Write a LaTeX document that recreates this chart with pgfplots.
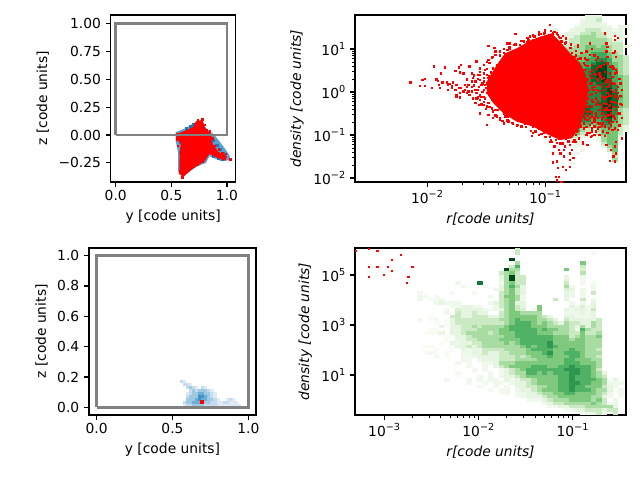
\documentclass[border=0pt]{standalone}
\usepackage{fontspec}
\setmainfont{DejaVu Sans}
\usepackage{pgfplots}
\usepackage{pgfplotstable}
\pgfplotsset{compat=1.18}
\newcommand\pw[1]{10\raisebox{0.85ex}{\fontsize{7}{7}\selectfont #1}}
\pgfdeclareplotmark{cell}{\pgfpathrectangle{\pgfqpoint{-2.0bp}{-1.25bp}}{\pgfqpoint{4.0bp}{2.5bp}}\pgfusepathqfill}
\pgfdeclareplotmark{bcell}{\pgfpathrectangle{\pgfqpoint{-1.1bp}{-1.1bp}}{\pgfqpoint{2.2bp}{2.2bp}}\pgfusepathqfill}
\pgfdeclareplotmark{dot}{\pgfpathrectangle{\pgfqpoint{-0.85bp}{-0.85bp}}{\pgfqpoint{1.7bp}{1.7bp}}\pgfusepathqfill}
\definecolor{boxgray}{HTML}{808080}
\pgfplotsset{
  every axis/.append style={scale only axis, clip mode=individual, tick align=outside, tick pos=left,
    major tick length=3.5bp, minor tick length=2bp, axis line style={line width=0.8bp},
    every tick/.append style={line width=0.8bp, black},
    every minor tick/.append style={line width=0.6bp, black},
    tick label style={font=\fontsize{10}{12}\selectfont},
    label style={font=\fontsize{10}{12}\selectfont},
    x tick label style={yshift=1.2bp}},
  colormap={greens}{rgb255=(247,252,245) rgb255=(229,245,224) rgb255=(199,233,192) rgb255=(161,217,155) rgb255=(116,196,118) rgb255=(65,171,93) rgb255=(35,139,69) rgb255=(0,109,44) rgb255=(0,68,27)},
  colormap={blues}{rgb255=(247,251,255) rgb255=(222,235,247) rgb255=(198,219,239) rgb255=(158,202,225) rgb255=(107,174,214) rgb255=(66,146,198) rgb255=(33,113,181) rgb255=(8,81,156) rgb255=(8,48,107)},
  hist/.style={scatter, only marks, mark=cell, colormap name=greens, point meta min=0, point meta max=8,
    scatter src=explicit, scatter/use mapped color={draw=none, fill=mapped color}},
  dots/.style={only marks, mark=dot, red, mark options={fill=red}},
}
% panel 2, gas phase histogram: column, row, shade
\pgfplotstableread[row sep=\\, header=false]{
37 4 1\\37 5 1\\37 6 1\\37 7 1\\38 7 1\\38 8 1\\39 5 1\\39 6 1\\39 7 1\\39 8 1\\39 9 2\\39 10 3\\39 20 4\\39 25 4\\39 30 4\\39 34 4\\39 36 3\\
40 4 .5\\40 5 1\\40 6 1\\40 7 2\\40 8 2\\40 9 2\\40 10 3\\40 11 3\\40 12 3\\40 13 4\\40 14 4\\40 15 4\\40 16 5\\40 18 5\\40 20 5\\40 22 5\\40 24 5\\40 26 5\\40 28 5\\40 30 5\\40 32 5\\40 34 4\\40 36 3\\40 37 .5\\40 44 .5\\
41 3 .5\\41 4 1\\41 5 1\\41 6 2\\41 7 2\\41 8 2\\41 9 3\\41 10 3\\41 11 3\\41 12 4\\41 13 4\\41 14 4\\41 15 4\\41 16 5\\41 17 5\\41 18 5\\41 19 5\\41 20 5\\41 21 5\\41 22 5\\41 23 5\\41 24 5\\41 25 5\\41 26 5\\41 27 5\\41 28 5\\41 29 5\\41 30 5\\41 31 6\\41 32 6\\41 33 6\\41 34 5\\41 35 4\\41 36 2\\41 37 1\\41 38 1\\41 39 .5\\41 41 .5\\
42 1 .5\\42 2 1\\42 3 1\\42 4 1\\42 5 2\\42 6 3\\42 7 3\\42 8 3\\42 9 3\\42 10 3\\42 11 4\\42 12 4\\42 13 4\\42 14 5\\42 15 5\\42 16 5\\42 17 5\\42 18 6\\42 19 6\\42 20 5\\42 21 5\\42 22 5\\42 23 6\\42 24 6\\42 25 6\\42 26 6\\42 27 6\\42 28 7\\42 29 7\\42 30 7\\42 31 6\\42 32 5\\42 33 4\\42 34 3\\42 35 2\\42 36 1\\42 38 .5\\42 40 .5\\
43 0 1\\43 1 1\\43 2 1\\43 3 1\\43 4 2\\43 5 2\\43 6 3\\43 7 3\\43 8 3\\43 9 4\\43 10 4\\43 11 4\\43 12 4\\43 13 5\\43 14 5\\43 15 5\\43 16 6\\43 17 6\\43 18 6\\43 19 6\\43 20 6\\43 21 6\\43 22 6\\43 23 6\\43 24 6\\43 25 6\\43 26 6\\43 27 7\\43 28 7\\43 29 7\\43 30 6\\43 31 6\\43 32 5\\43 33 4\\43 34 2\\43 35 1\\43 36 1\\
44 0 1\\44 1 1\\44 2 1\\44 3 1\\44 4 2\\44 5 3\\44 6 3\\44 7 3\\44 8 3\\44 9 4\\44 10 4\\44 11 5\\44 12 5\\44 13 5\\44 14 6\\44 15 7\\44 16 7\\44 17 7\\44 18 7\\44 19 7\\44 20 6\\44 21 6\\44 22 6\\44 23 6\\44 24 6\\44 25 6\\44 26 6\\44 27 6\\44 28 6\\44 29 6\\44 30 6\\44 31 5\\44 32 4\\44 33 2\\44 34 1\\44 35 .5\\44 36 .5\\
45 0 1\\45 1 2\\45 2 1\\45 3 1\\45 4 2\\45 5 2\\45 6 2\\45 7 3\\45 8 3\\45 9 3\\45 10 4\\45 11 5\\45 12 5\\45 13 6\\45 14 7\\45 15 7\\45 16 8\\45 17 8\\45 18 8\\45 19 7\\45 20 7\\45 21 6\\45 22 6\\45 23 6\\45 24 6\\45 25 6\\45 26 7\\45 27 6\\45 28 6\\45 29 6\\45 30 6\\45 31 5\\45 32 5\\45 33 4\\45 34 3\\45 35 2\\45 36 1\\45 37 .5\\
46 2 .5\\46 3 1\\46 4 1\\46 5 2\\46 6 2\\46 7 3\\46 8 3\\46 9 4\\46 10 4\\46 11 5\\46 12 5\\46 13 6\\46 14 7\\46 15 8\\46 16 8\\46 17 8\\46 18 8\\46 19 8\\46 20 7\\46 21 7\\46 22 7\\46 23 7\\46 24 7\\46 25 7\\46 26 7\\46 27 8\\46 28 7\\46 29 7\\46 30 6\\46 31 6\\46 32 6\\46 33 5\\46 34 4\\46 35 4\\46 36 3\\46 37 3\\46 38 2\\46 39 1\\
47 3 .5\\47 4 1\\47 5 1\\47 6 1\\47 7 2\\47 8 2\\47 9 3\\47 10 3\\47 11 4\\47 12 4\\47 13 5\\47 14 5\\47 15 6\\47 16 6\\47 17 6\\47 18 6\\47 19 7\\47 20 7\\47 21 7\\47 22 8\\47 23 8\\47 24 8\\47 25 8\\47 26 8\\47 27 8\\47 28 8\\47 29 8\\47 30 8\\47 31 7\\47 32 6\\47 33 5\\47 34 4\\47 35 4\\47 36 4\\47 37 4\\47 38 4\\47 39 3\\47 40 2\\
48 4 .5\\48 5 1\\48 6 1\\48 7 1\\48 8 2\\48 9 2\\48 10 2\\48 11 3\\48 12 3\\48 13 3\\48 14 4\\48 15 4\\48 16 5\\48 17 5\\48 18 5\\48 19 5\\48 20 5\\48 21 6\\48 22 6\\48 23 7\\48 24 7\\48 25 7\\48 26 7\\48 27 7\\48 28 6\\48 29 6\\48 30 5\\48 31 5\\48 32 4\\48 33 4\\48 34 4\\48 35 4\\48 36 4\\48 37 4\\48 38 4\\48 39 4\\48 40 4\\48 41 3\\48 42 2\\48 43 3\\
49 3 1\\49 4 1\\49 5 1\\49 6 1\\49 7 1\\49 8 2\\49 9 2\\49 10 2\\49 11 2\\49 12 3\\49 13 3\\49 14 3\\49 15 3\\49 16 3\\49 17 3\\49 18 4\\49 19 4\\49 20 4\\49 21 4\\49 22 4\\49 23 4\\49 24 5\\49 25 4\\49 26 4\\49 27 4\\49 28 3\\49 29 3\\49 30 3\\49 31 3\\49 32 3\\49 33 2\\49 34 2\\49 35 2\\49 36 1\\
50 3 1\\50 6 1\\50 9 1\\50 12 2\\50 13 2\\50 14 2\\50 15 2\\50 16 2\\50 17 2\\50 18 3\\50 19 3\\50 20 3\\50 21 3\\50 22 3\\50 23 3\\50 24 3\\50 25 3\\50 26 3\\50 27 3\\50 28 2\\50 29 2\\50 30 2\\50 31 2\\50 32 2\\50 33 1\\50 34 1\\
}\histtop
% panel 4, gas phase histogram: column, row, shade
\pgfplotstableread[row sep=\\, header=false]{
30 0 2\\30 1 2\\29 3 9\\30 4 3\\29 5 2\\30 5 5\\28 6 9\\29 6 3\\30 6 3\\27 7 2\\28 7 3\\29 7 4\\30 7 2\\27 8 1\\28 8 3\\29 8 9\\30 8 2\\31 8 2\\
27 9 1\\28 9 3\\29 9 9\\30 9 2\\31 9 2\\19 10 .5\\23 10 7\\27 10 .5\\28 10 3\\29 10 4\\30 10 2\\31 10 2\\20 11 .3\\24 11 .5\\27 11 1\\28 11 3\\29 11 5\\30 11 3\\31 11 1\\26 12 .5\\27 12 1\\28 12 3\\29 12 4\\30 12 2\\31 12 1\\
12 13 .3\\18 13 .2\\22 13 .3\\27 13 2\\28 13 3\\29 13 4\\30 13 2\\31 13 1\\12 14 .5\\13 14 .3\\15 14 .3\\25 14 .5\\27 14 2\\28 14 4\\29 14 4\\30 14 3\\31 14 .5\\12 15 .5\\14 15 .2\\15 15 .3\\16 15 .5\\27 15 2\\28 15 3\\29 15 4\\30 15 3\\31 15 .5\\
15 16 .5\\16 16 1\\17 16 .3\\18 16 .5\\19 16 .5\\25 16 .5\\26 16 1\\27 16 2\\28 16 3\\29 16 4\\30 16 1\\31 16 1\\18 17 .5\\19 17 .5\\20 17 1\\21 17 1\\22 17 .5\\23 17 .3\\26 17 .5\\27 17 2\\28 17 3\\29 17 4\\30 17 2\\31 17 1\\34 17 4\\37 15 2\\
17 18 .3\\19 18 1.5\\20 18 1\\21 18 1\\22 18 1\\23 18 1\\24 18 .5\\25 18 .2\\26 18 .5\\27 18 1\\28 18 3\\29 18 4\\30 18 2\\31 18 1.5\\33 18 .3\\34 18 4\\
17 19 .5\\19 19 2\\20 19 1\\21 19 1\\22 19 2\\23 19 1\\24 19 1\\27 19 2\\28 19 3\\29 19 4\\30 19 4\\31 19 3\\32 19 3\\33 19 3\\34 19 3\\
14 20 0\\18 20 2\\19 20 2\\20 20 1\\21 20 1\\22 20 2\\23 20 2\\24 20 2\\25 20 1\\26 20 1\\27 20 2\\28 20 3\\29 20 4\\30 20 4\\31 20 4\\32 20 4\\33 20 4\\34 20 3\\35 20 2\\36 20 1\\
12 21 .3\\14 21 0\\15 21 .3\\17 21 0\\18 21 1\\19 21 2\\20 21 2\\21 21 2\\22 21 2\\23 21 2\\24 21 2\\25 21 2\\26 21 2\\27 21 3\\28 21 3\\29 21 4\\30 21 5\\31 21 4\\32 21 4\\33 21 4\\34 21 3\\35 21 3\\36 21 2\\37 21 1\\
15 22 0\\17 22 0\\18 22 1\\19 22 2\\20 22 2\\21 22 2\\22 22 2\\23 22 2\\24 22 2\\25 22 2\\26 22 2\\27 22 2\\28 22 3\\29 22 4\\30 22 5\\31 22 5\\32 22 5\\33 22 4\\34 22 3\\35 22 4\\36 22 3\\37 22 2\\38 22 1\\
16 23 1\\17 23 0\\18 23 1\\19 23 1\\20 23 2\\21 23 2\\22 23 3\\23 23 2\\24 23 3\\25 23 3\\26 23 3\\27 23 3\\28 23 4\\29 23 5\\30 23 5\\31 23 5\\32 23 5\\33 23 4\\34 23 4\\35 23 4\\36 23 3\\37 23 3\\38 23 3\\
14 24 0\\15 24 0\\18 24 1\\19 24 1\\20 24 2\\21 24 2\\22 24 2\\23 24 3\\24 24 3\\25 24 3\\26 24 3\\27 24 4\\28 24 4\\29 24 5\\30 24 5\\31 24 5\\32 24 5\\33 24 5\\34 24 4\\35 24 5\\36 24 4\\37 24 4\\38 24 3\\
13 25 0\\14 25 0\\15 25 0\\16 25 1\\18 25 1\\19 25 1\\20 25 2\\21 25 3\\22 25 3\\23 25 3\\24 25 3\\25 25 2\\26 25 3\\27 25 4\\28 25 4\\29 25 4\\30 25 5\\31 25 5\\32 25 5\\33 25 5\\34 25 4\\35 25 4\\36 25 4\\37 25 3\\38 25 3\\
39 6 4\\39 8 1\\39 9 1\\39 10 2\\39 11 3\\39 12 1.5\\39 13 1\\39 14 1\\39 15 1\\39 18 1\\39 19 .5\\39 20 1\\39 21 2\\39 22 3\\39 23 3\\39 24 3\\39 25 3\\
40 11 .5\\40 12 1\\40 13 .5\\40 14 .5\\40 16 .5\\40 17 1\\40 18 .5\\40 19 .5\\40 20 1\\40 21 1\\40 22 2\\40 23 2\\40 24 2\\40 25 2\\
41 17 .5\\41 18 1\\41 19 .5\\41 20 .5\\41 21 1\\41 22 2\\41 23 1\\41 24 .5\\41 25 2\\
42 4 4\\42 5 2\\42 6 1.5\\42 7 2.5\\42 8 .5\\42 9 .3\\42 10 .3\\42 12 .5\\42 13 .5\\42 14 .5\\42 15 2\\42 16 .5\\42 17 1.5\\42 18 1\\42 19 1\\42 20 .5\\42 21 1\\42 22 1\\42 23 3\\42 24 5\\42 25 4\\
43 17 .5\\43 18 .5\\43 19 .5\\43 20 .5\\43 21 1\\43 22 1\\43 23 1\\43 24 3\\43 25 2\\
44 1 .3\\44 10 .3\\44 11 .5\\44 12 .5\\44 13 2\\44 15 .5\\44 16 1\\44 17 1\\44 18 2\\44 19 1\\44 20 1\\44 21 1\\44 22 3\\44 23 3\\44 24 2\\44 25 2\\45 21 2\\45 22 2\\45 23 2\\45 24 2\\45 25 3\\
17 26 0\\18 26 0\\19 26 1\\20 26 1\\21 26 2\\22 26 3\\23 26 3\\24 26 3\\25 26 3\\26 26 3\\27 26 3\\28 26 4\\29 26 4\\30 26 5\\31 26 5\\32 26 5\\33 26 5\\34 26 5\\35 26 5\\36 26 5\\37 26 4\\38 26 4\\39 26 4\\40 26 2\\41 26 3\\42 26 4\\43 26 3\\44 26 3\\45 26 4\\
17 27 0\\19 27 1\\20 27 1\\21 27 2\\22 27 2\\23 27 3\\24 27 3\\25 27 3\\26 27 3\\27 27 4\\28 27 4\\29 27 4\\30 27 4\\31 27 5\\32 27 5\\33 27 5\\34 27 5\\35 27 5\\36 27 5\\37 27 4\\38 27 4\\39 27 4\\40 27 3\\41 27 4\\42 27 4\\43 27 3\\44 27 3\\45 27 3\\
16 28 0\\18 28 1\\19 28 .5\\20 28 1\\21 28 1\\22 28 2\\23 28 2\\24 28 3\\25 28 3\\26 28 3\\27 28 3\\28 28 4\\29 28 3\\30 28 4\\31 28 5\\32 28 5\\33 28 5\\34 28 5\\35 28 5\\36 28 6\\37 28 4\\38 28 4\\39 28 4\\40 28 4\\41 28 4\\42 28 4\\43 28 3\\44 28 3\\45 28 3\\
13 29 0\\14 29 0\\18 29 0\\19 29 1\\20 29 1\\21 29 2\\22 29 1\\23 29 2\\24 29 3\\25 29 3\\26 29 3\\27 29 3\\28 29 3\\29 29 3\\30 29 3\\31 29 4\\32 29 5\\33 29 4\\34 29 5\\35 29 5\\36 29 6\\37 29 5\\38 29 4\\39 29 4\\40 29 4\\41 29 4\\42 29 4\\43 29 3\\44 29 3\\45 29 3\\
15 30 0\\18 30 0\\20 30 1\\21 30 .5\\22 30 1\\23 30 1\\24 30 2\\25 30 2\\26 30 2\\27 30 2\\28 30 3\\29 30 3\\30 30 3\\31 30 3\\32 30 4\\33 30 5\\34 30 5\\35 30 5\\36 30 5\\37 30 4\\38 30 4\\39 30 4\\40 30 5\\41 30 4\\42 30 4\\43 30 3\\44 30 3\\45 30 2\\
13 31 0\\14 31 .3\\15 31 0\\17 31 0\\20 31 .5\\21 31 .5\\22 31 1\\23 31 1\\24 31 2\\25 31 1\\26 31 1\\27 31 2\\28 31 2\\29 31 3\\30 31 3\\31 31 3\\32 31 4\\33 31 4\\34 31 4\\35 31 5\\36 31 6\\37 31 4\\38 31 4\\39 31 5\\40 31 5\\41 31 5\\42 31 4\\43 31 3\\44 31 3\\45 31 3\\
15 32 .3\\17 32 0\\20 32 .5\\21 32 .5\\22 32 .5\\23 32 1\\24 32 1\\25 32 1\\26 32 1\\27 32 2\\28 32 2\\29 32 2\\30 32 3\\31 32 2\\32 32 3\\33 32 4\\34 32 4\\35 32 4\\36 32 5\\37 32 4\\38 32 4\\39 32 4\\40 32 5\\41 32 5\\42 32 4\\43 32 3\\44 32 3\\45 32 2\\
20 33 .5\\21 33 .3\\23 33 .5\\24 33 1\\25 33 1\\26 33 1\\27 33 2\\28 33 2\\29 33 2\\30 33 3\\31 33 3\\32 33 3\\33 33 3\\34 33 4\\35 33 4\\36 33 4\\37 33 4\\38 33 4\\39 33 5\\40 33 5\\41 33 4\\42 33 4\\43 33 4\\44 33 3\\45 33 3\\
19 34 .3\\21 34 .3\\24 34 .5\\25 34 .5\\26 34 1\\27 34 3\\28 34 3\\29 34 3\\30 34 4\\31 34 4\\32 34 4\\33 34 4\\34 34 4\\35 34 4\\36 34 4\\37 34 4\\38 34 4\\39 34 5\\40 34 5\\41 34 5\\42 34 4\\43 34 4\\44 34 4\\45 34 3\\
21 35 .3\\24 35 .5\\26 35 1\\27 35 2\\28 35 3\\29 35 4\\30 35 4\\31 35 4\\32 35 4\\33 35 5\\34 35 5\\35 35 5\\36 35 4\\37 35 4\\38 35 5\\39 35 5\\40 35 6\\41 35 5\\42 35 5\\43 35 5\\44 35 4\\45 35 3\\
22 36 .3\\24 36 .5\\27 36 .5\\28 36 1\\29 36 2\\30 36 3\\31 36 4\\32 36 5\\33 36 5\\34 36 5\\35 36 5\\36 36 5\\37 36 5\\38 36 5\\39 36 6\\40 36 6\\41 36 6\\42 36 5\\43 36 5\\44 36 4\\45 36 2\\
19 37 .3\\25 37 .5\\27 37 .3\\28 37 1\\29 37 2\\30 37 3\\31 37 3\\32 37 5\\33 37 5\\34 37 4\\35 37 5\\36 37 4\\37 37 5\\38 37 5\\39 37 5\\40 37 6\\41 37 6\\42 37 5\\43 37 5\\44 37 4\\45 37 3\\46 37 1\\
19 38 0\\23 38 .5\\25 38 .5\\27 38 .5\\28 38 1\\29 38 1\\30 38 2\\31 38 3\\32 38 4\\33 38 4\\34 38 4\\35 38 4\\36 38 4\\37 38 4\\38 38 5\\39 38 5\\40 38 6\\41 38 5\\42 38 5\\43 38 5\\44 38 4\\45 38 3\\46 38 2\\
17 39 .3\\21 39 .5\\23 39 .5\\25 39 .5\\26 39 .3\\28 39 1\\29 39 .5\\30 39 1\\31 39 2\\32 39 2\\33 39 3\\34 39 4\\35 39 4\\36 39 4\\37 39 4\\38 39 5\\39 39 5\\40 39 6\\41 39 5\\42 39 5\\43 39 5\\44 39 5\\45 39 4\\46 39 3\\47 39 0\\48 39 1\\
21 40 .3\\24 40 .3\\26 40 .5\\27 40 .3\\29 40 .5\\30 40 1\\31 40 1\\32 40 2\\33 40 3\\34 40 4\\35 40 4\\36 40 4\\37 40 4\\38 40 5\\39 40 5\\40 40 6\\41 40 6\\42 40 5\\43 40 5\\44 40 4\\45 40 4\\46 40 3\\47 40 .5\\48 40 .5\\49 40 .5\\
23 41 .3\\26 41 .5\\28 41 .3\\30 41 1\\31 41 1\\32 41 2\\33 41 2\\34 41 3\\35 41 3\\36 41 4\\37 41 4\\38 41 5\\39 41 5\\40 41 6\\41 41 5\\42 41 5\\43 41 4\\44 41 4\\45 41 4\\46 41 2\\47 41 1\\48 41 .5\\
25 42 .3\\27 42 .3\\28 42 .5\\30 42 .5\\31 42 1\\32 42 1\\33 42 2\\34 42 3\\35 42 4\\36 42 4\\37 42 4\\38 42 5\\39 42 5\\40 42 6\\41 42 5\\42 42 5\\43 42 5\\44 42 4\\45 42 3\\46 42 3\\47 42 1\\48 42 0\\49 42 .5\\
27 43 .3\\28 43 .3\\30 43 .5\\31 43 .5\\32 43 1\\33 43 1\\34 43 2\\35 43 3\\36 43 3\\37 43 4\\38 43 4\\39 43 5\\40 43 5\\41 43 4\\42 43 4\\43 43 4\\44 43 4\\45 43 3\\46 43 2\\47 43 .5\\49 43 .5\\
30 44 .3\\31 44 .5\\32 44 1\\33 44 1\\34 44 1\\35 44 2\\36 44 3\\37 44 3\\38 44 4\\39 44 4\\40 44 4\\41 44 4\\42 44 4\\43 44 4\\44 44 3\\45 44 3\\46 44 1\\47 44 .5\\49 44 .3\\
32 45 .3\\33 45 .5\\34 45 .5\\35 45 1\\36 45 2\\37 45 3\\38 45 3\\39 45 3\\40 45 4\\41 45 4\\42 45 4\\43 45 4\\44 45 3\\45 45 4\\46 45 2\\48 45 .5\\
35 46 .5\\36 46 1\\37 46 2\\38 46 2\\39 46 3\\40 46 3\\41 46 3\\42 46 3\\43 46 3\\44 46 4\\45 46 3\\46 46 2\\47 46 .5\\48 46 .5\\
36 47 .3\\37 47 .5\\38 47 1\\39 47 1\\40 47 2\\41 47 2\\42 47 2\\43 47 3\\44 47 3\\45 47 3\\46 47 3\\47 47 3\\48 47 1\\
39 48 .3\\40 48 .3\\41 48 1\\42 48 1\\43 48 2\\44 48 2\\45 48 2\\46 48 1\\47 48 2\\48 48 2\\42 49 .3\\43 49 .5\\44 49 1\\45 49 2\\46 49 .3\\48 49 2\\
}\histbot
\begin{document}
\begin{tikzpicture}
\path[use as bounding box] (0,0) rectangle (460.8bp,345.6bp);
\begin{axis}[at={(79.7bp,214.56bp)}, anchor=south west, width=89.9bp, height=120.24bp,
  xmin=-0.045, xmax=1.077, ymin=-0.422, ymax=1.078,
  xtick={0,0.5,1}, xticklabels={0.0,0.5,1.0},
  ytick={-0.25,0,0.25,0.5,0.75,1}, yticklabels={−0.25,0.00,0.25,0.50,0.75,1.00},
  xlabel={y [code units]}, ylabel={z [code units]}]
\addplot[draw=none, fill={rgb,255:red,88;green,160;blue,205}] coordinates {(.638,.065) (.698,.105) (.772,.135) (.812,.060) (.887,0) (.947,-.075) (1.022,-.180) (1.031,-.225) (.952,-.235) (.892,-.211) (.842,-.190) (.812,-.250) (.738,-.279) (.648,-.339) (.599,-.378) (.562,-.329) (.562,-.165) (.538,-.045) (.538,.025)} --cycle;
\addplot[only marks, mark=bcell, mark options={fill={rgb,255:red,31;green,119;blue,180}}] coordinates {(.64,.06) (.67,.08) (.70,.09) (.73,.10) (.88,-.05) (.91,-.09) (.94,-.13) (.97,-.17) (.96,-.22) (.92,-.21) (.88,-.19) (.58,-.07) (.56,-.02) (.58,-.16)};
\addplot[draw=none, fill=red] coordinates {(.56,.015) (.64,.045) (.70,.075) (.725,.125) (.781,.135) (.80,.07) (.86,.0) (.87,-.075) (.92,-.15) (1.0,-.19) (.985,-.23) (.90,-.20) (.84,-.17) (.80,-.235) (.70,-.295) (.608,-.375) (.57,-.35) (.575,-.165) (.585,-.075) (.54,-.03)} --cycle;
\addplot[dots] coordinates {(1.033,-.219) (.99,-.17) (.96,-.16) (.93,-.13) (.89,-.10) (.87,-.03) (.85,.03) (.82,.04) (.80,.09) (.78,.14) (.74,.13) (.71,.10) (.55,.01) (.55,-.04) (.56,-.10) (.70,-.29) (.74,-.27) (.78,-.24) (.80,-.20) (.60,-.38)};
\addplot[boxgray, line width=1.8bp] coordinates {(0,0) (1,0) (1,1) (0,1) (0,0)};
\end{axis}
\begin{axis}[at={(255.6bp,214.56bp)}, anchor=south west, width=195.12bp, height=120.24bp,
  xmode=log, ymode=log, xmin=0.00245, xmax=0.485, ymin=0.00807, ymax=61.7,
  xtick={0.01,0.1}, xticklabels={\pw{−2},\pw{−1}},
  ytick={0.01,0.1,1,10}, yticklabels={\pw{−2},\pw{−1},\pw{0},\pw{1}},
  xlabel={\textit{r[code units]}}, ylabel={\textit{density [code units]}}]
\addplot[hist] table[x expr={10^(-2.61+0.0459*\thisrowno{0})}, y expr={10^(1.751-0.0775*\thisrowno{1})}, meta index=2]{\histtop};
\addplot[draw=none, fill=red] table[row sep=\\, header=false, x expr={10^(\thisrowno{0})}, y expr={10^(\thisrowno{1})}]{
-1.494 .240\\-1.410 .628\\-1.339 .899\\-1.240 1.016\\-1.127 1.194\\-1.042 1.287\\-.944 1.364\\-.873 1.171\\-.788 .899\\-.703 .667\\-.661 .434\\-.633 .047\\-.661 -.419\\-.703 -.806\\-.774 -1.078\\-.873 -1.116\\-.986 -.977\\-1.099 -.806\\-1.240 -.690\\-1.353 -.496\\-1.438 -.264\\-1.494 -.031\\
} --cycle;
\addplot[dots] table[row sep=\\, header=false, x expr={10^(\thisrowno{0})}, y expr={10^(\thisrowno{1})}]{
-2.14 .22\\-2.06 .14\\-2.04 .28\\-2.02 .30\\-2.02 .14\\-1.96 .10\\-1.94 .59\\-1.92 .29\\-1.91 .26\\-1.90 .16\\-1.89 .09\\-1.88 .43\\-1.85 .57\\-1.87 .22\\-1.83 .22\\-1.82 .05\\-1.81 .19\\-1.79 .14\\-1.78 .22\\-1.76 .49\\-1.76 .05\\-1.75 .16\\-1.73 .57\\-1.72 .45\\-1.71 .63\\-1.69 .43\\-1.68 .05\\-1.66 .11\\-1.65 .16\\-1.64 .59\\-1.62 .43\\-1.61 .32\\-1.59 .24\\-1.62 .24\\-1.66 .29\\-1.75 -.11\\-1.72 -.13\\-1.64 -.07\\-1.61 -.15\\-1.58 .71\\-1.59 -.26\\-1.56 -.30\\-1.54 -.29\\-1.57 .40\\-1.55 .47\\-1.52 .43\\-1.49 .53\\-1.47 .67\\-1.48 .74\\-1.44 .82\\-1.42 .94\\-1.38 .94\\-1.35 .90\\-1.48 1.07\\-1.43 1.02\\-1.32 1.13\\-1.25 1.35\\-1.30 1.13\\-1.27 .94\\-1.26 1.09\\
-1.49 -.77\\-1.44 -.61\\-1.48 -.53\\-1.49 -.34\\-1.45 -.38\\-1.42 -.42\\-1.38 -.65\\-1.35 -.73\\-1.34 -.57\\-1.31 -.69\\-1.27 -.73\\-1.23 -.77\\-1.17 -.73\\-1.55 -.50\\-1.52 .05\\-1.56 .12\\-1.55 .28\\-1.52 .32\\-1.49 .20\\-1.47 .36\\-1.45 .12\\-1.44 -.03\\-1.47 -.07\\-1.49 -.03\\-1.51 -.15\\-1.54 -.11\\-1.58 -.03\\-1.62 .01\\-1.66 -.03\\-1.69 .01\\-1.72 -.03\\-1.75 -.07\\-1.79 .09\\-1.82 .16\\-1.42 .51\\-1.41 .63\\-1.44 .55\\-1.43 .36\\-1.41 -.23\\-1.38 -.34\\-1.40 -.42\\-1.35 -.50\\-1.41 -.57\\-1.32 -.57\\-1.28 -.57\\-1.24 -.65\\-1.20 -.61\\-1.41 .05\\-1.43 -.15\\
-1.42 .40\\-1.47 .24\\-1.48 .32\\-1.52 .24\\-1.54 .16\\-1.55 .40\\-1.51 .51\\-1.57 .05\\-1.59 .05\\-1.50 .09\\-1.47 .05\\-1.45 -.19\\-1.48 -.26\\-1.52 -.23\\-1.55 -.19\\-1.43 .20\\-1.40 .28\\-1.49 .40\\-1.51 .16\\-1.57 -.13\\-1.62 .12\\-1.65 .01\\-1.68 .16\\-1.71 .09\\-1.73 .09\\-1.32 .98\\-1.30 1.0\\-1.21 1.09\\-1.18 1.17\\-1.14 1.21\\-1.10 1.21\\-1.13 1.29\\
-1.10 1.32\\-1.09 1.29\\-1.04 1.35\\-1.00 1.44\\-.96 1.56\\-1.01 1.36\\-.93 1.36\\-.92 1.40\\-.89 1.32\\-.86 1.17\\-.93 1.25\\-.87 1.25\\-.83 1.13\\-.79 1.02\\-.77 .90\\-.85 .98\\-.80 .78\\-.75 .82\\-.72 1.05\\-.69 .90\\-.65 .94\\-.62 .86\\-.57 .74\\-.64 .74\\-.60 .63\\-.56 .55\\-.54 .43\\-.67 .67\\-.73 .67\\-.70 .55\\-.66 .51\\-.62 .47\\-.57 .40\\-.64 .28\\-.67 .36\\-.60 .20\\-.54 .16\\-.63 .05\\-.59 .05\\-.51 -.11\\-.57 -.15\\-.62 -.07\\-.66 -.03\\-.54 -.42\\-.60 -.34\\-.64 -.34\\-.67 -.19\\-.48 -.42\\-.44 -.50\\-.51 -.50\\-.57 -.50\\-.60 -.57\\-.64 -.65\\-.67 -.73\\-.64 -.46\\-.72 -.77\\-.67 -.85\\-.73 -.93\\-.71 -1.08\\-.74 -1.16\\-.68 -1.16\\-.76 -1.16\\-.79 -1.23\\-.77 -1.35\\-.83 -1.27\\-.87 -1.20\\-.91 -1.12\\-.94 -1.16\\-.96 -1.16\\-.92 -1.27\\-.88 -1.35\\-.84 -1.35\\-.79 -1.43\\-.87 -1.43\\-.93 -1.43\\-.76 -1.54\\-.79 -1.58\\-.84 -1.50\\-.90 -1.62\\-.93 -1.64\\-.89 -1.77\\-.85 -1.74\\-.82 -1.81\\-.79 -1.74\\-.91 -1.97\\-.88 -1.97\\-.90 -2.06\\-.86 -2.09\\-1.11 -1.02\\-1.10 -.96\\-1.01 -.95\\-.99 -1.04\\-.95 -1.12\\-.86 -1.04\\-.79 -1.04\\-.74 -1.00\\-.68 -1.20\\-.64 -1.23\\
-.49 1.36\\-.41 1.30\\-.48 1.13\\-.47 1.05\\-.41 1.21\\-.38 1.25\\-.41 .94\\-.40 .82\\-.48 .94\\-.47 .82\\-.43 .59\\-.40 .51\\-.41 .43\\-.45 .43\\-.44 .28\\-.47 .28\\-.42 .20\\-.38 .12\\-.40 .05\\-.44 .05\\-.47 -.03\\-.48 -.11\\-.41 -.11\\-.38 -.15\\-.42 -.23\\-.45 -.30\\-.50 -.26\\-.53 -.30\\-.48 -.38\\-.40 -.42\\-.37 -.50\\-.42 -.57\\-.45 -.53\\-.48 -.65\\-.51 -.73\\-.54 -.73\\-.58 -.69\\-.55 -.85\\-.51 -.92\\-.54 -1.00\\-.49 -1.02\\-.47 -.96\\-.43 -.89\\-.38 -.89\\-.35 -1.08\\-.40 -1.16\\-.48 -1.23\\-.41 -1.27\\-.44 -1.35\\-.40 -1.43\\-.42 -1.50\\-.45 -1.60\\-.41 -1.62\\-.54 -.81\\-.57 -.92\\-.60 -.85\\-.62 -.77\\-.60 -.92\\-.65 -.81\\-.50 .05\\-.52 .12\\-.56 .05\\-.53 .36\\-.50 .32\\-.48 .24\\-.49 .47\\-.53 .59\\-.42 .90\\-.62 1.13\\-.72 1.09\\
-.64 .60\\-.61 .33\\-.59 -.24\\-.56 -.28\\-.62 -.44\\-.52 -.62\\-.58 -.62\\-.46 -.72\\-.60 -1.03\\-.50 -.15\\-.46 .15\\-.44 -.10\\-.46 -.42\\-.56 .30\\-.66 .78\\-.58 .12\\
-1.46 .45\\-1.44 .30\\-1.42 .15\\-1.40 .45\\-1.39 .18\\-1.38 .70\\-1.36 .55\\-1.34 .72\\-1.45 -.10\\-1.41 -.05\\-1.39 -.32\\-1.37 -.20\\-1.35 -.38\\-1.33 -.40\\-1.31 -.46\\-1.28 -.48\\-1.25 -.52\\-1.21 -.56\\-1.18 -.62\\-1.14 -.68\\-1.10 -.80\\-1.05 -.86\\-1.03 -.98\\-.98 -.96\\-.92 -1.02\\-.88 -1.10\\-.82 -1.10\\-.76 -.90\\-.72 -.90\\-.70 -.80\\-.66 -.62\\-.64 -.55\\-.69 -.50\\-.67 -.40\\-.65 -.25\\-.64 -.15\\-.66 .12\\-.65 .30\\-.62 .38\\-.60 .50\\-.68 .50\\-.72 .76\\-.74 .96\\-.78 1.10\\-.82 1.24\\-.85 1.30\\-.90 1.36\\-.95 1.42\\-1.00 1.38\\-1.05 1.32\\-1.15 1.15\\-1.20 1.02\\-1.25 .92\\-1.28 .85\\-1.30 .80\\
-.60 1.0\\-.58 .85\\-.55 .80\\-.52 .72\\-.50 .62\\-.47 .66\\-.45 .58\\-.60 .33\\-.58 .42\\-.55 .25\\-.52 .30\\-.50 .18\\-.47 .12\\-.45 .22\\-.43 .35\\-.41 .18\\-.60 -.05\\-.57 -.02\\-.54 .02\\-.52 -.08\\-.49 -.15\\-.46 -.08\\-.44 -.22\\-.42 .00\\-.40 -.08\\-.38 -.02\\-.36 -.10\\-.60 -.20\\-.57 -.30\\-.55 -.22\\-.52 -.35\\-.50 -.42\\-.48 -.28\\-.46 -.32\\-.44 -.42\\-.42 -.35\\-.40 -.25\\-.38 -.35\\-.36 -.28\\-.60 -.48\\-.57 -.55\\-.55 -.60\\-.52 -.50\\-.50 -.58\\-.47 -.55\\-.45 -.65\\-.43 -.70\\-.41 -.62\\-.39 -.70\\-.37 -.78\\-.62 -.60\\-.60 -.72\\-.58 -.80\\-.55 -.72\\-.52 -.78\\-.49 -.80\\-.46 -.85\\-.44 -.78\\-.41 -.85\\-.62 -.95\\-.65 -1.0\\-.61 -1.05\\-.58 -1.0\\-.64 -.95\\-.62 .20\\-.60 .10\\-.37 .30\\-.39 .45\\-.42 .55\\-.38 -.50\\-.35 -.60\\-.36 .20\\-.35 .05\\-.35 -.30\\
-1.52 -.30\\-1.50 -.40\\-1.47 -.35\\-1.44 -.45\\-1.42 -.55\\-1.38 -.60\\-1.36 -.68\\-1.32 -.66\\-1.28 -.72\\-1.24 -.78\\-1.20 -.80\\-1.16 -.82\\-1.12 -.90\\-1.08 -.92\\-1.05 -1.00\\-1.00 -1.05\\-.96 -1.05\\-.90 -1.18\\-.85 -1.20\\-.80 -1.15\\-.75 -1.12\\-1.55 .55\\-1.52 .62\\-1.49 .70\\-1.45 .80\\-1.42 .86\\-1.38 .85\\-1.35 1.00\\-1.30 1.05\\-1.25 1.10\\-1.20 1.18\\-1.15 1.25\\-1.10 1.30\\-1.05 1.38\\-.88 1.28\\-.82 1.15\\-.78 1.02\\-.74 .85\\-.70 .78\\-.66 .62\\-1.53 .20\\-1.53 .00\\-1.55 -.08\\-1.57 .30\\-1.60 .15\\-1.58 -.15\\-1.60 .38\\-1.52 -.12\\
}; 
\end{axis}
\begin{axis}[at={(64.08bp,46.8bp)}, anchor=south west, width=120.24bp, height=120.24bp,
  xmin=-0.05, xmax=1.05, ymin=-0.05, ymax=1.05,
  xtick={0,0.5,1}, xticklabels={0.0,0.5,1.0},
  ytick={0,0.2,0.4,0.6,0.8,1}, yticklabels={0.0,0.2,0.4,0.6,0.8,1.0},
  xlabel={y [code units]}, ylabel={z [code units]}]
\addplot[hist, mark=bcell, colormap name=blues] table[row sep=\\, header=false, x index=0, y index=1, meta index=2]{
.56 .17 2\\.58 .17 1\\.58 .15 2\\.60 .15 2\\.62 .15 1\\.60 .13 2\\.62 .13 3\\.64 .13 2\\.66 .13 1\\.70 .13 2\\.72 .13 1\\
.62 .11 2\\.64 .11 3\\.66 .11 2\\.68 .11 3\\.70 .11 3\\.72 .11 3\\.74 .11 2\\.76 .11 1\\
.60 .09 1\\.62 .09 2\\.64 .09 3\\.66 .09 3\\.68 .09 4\\.70 .09 4\\.72 .09 3\\.74 .09 3\\.76 .09 2\\.78 .09 1\\
.60 .07 2\\.62 .07 3\\.64 .07 3\\.66 .07 3\\.68 .07 5\\.70 .07 5\\.72 .07 4\\.74 .07 3\\.76 .07 2\\.78 .07 1\\
.60 .05 3\\.62 .05 3\\.64 .05 3\\.66 .05 4\\.68 .05 5\\.70 .05 4\\.72 .05 4\\.74 .05 3\\.76 .05 3\\.78 .05 2\\.80 .05 1\\.86 .05 1\\.88 .05 2\\.90 .05 1\\
.58 .03 2\\.60 .03 3\\.62 .03 3\\.64 .03 4\\.66 .03 4\\.68 .03 4\\.70 .03 4\\.72 .03 3\\.74 .03 3\\.76 .03 2\\.78 .03 2\\.80 .03 1\\.82 .03 1\\.84 .03 2\\.86 .03 2\\.88 .03 1\\.90 .03 1\\.92 .03 1\\
.58 .01 1\\.60 .01 2\\.62 .01 2\\.64 .01 3\\.66 .01 3\\.68 .01 3\\.70 .01 3\\.72 .01 2\\.74 .01 2\\.76 .01 2\\.78 .01 2\\.80 .01 1\\.82 .01 1\\.84 .01 1\\.86 .01 1\\.88 .01 1\\.90 .01 1\\.92 .01 1\\.94 .01 1\\
};
\addplot[boxgray, line width=1.6bp] coordinates {(0,0) (1,0) (1,1) (0,1) (0,0)};
\addplot[only marks, mark=square*, red, mark size=1.0bp, mark options={fill=red}] coordinates {(.693,.035)};
\end{axis}
\begin{axis}[at={(255.6bp,46.8bp)}, anchor=south west, width=195.12bp, height=120.24bp,
  xmode=log, ymode=log, xmin=0.00049, xmax=0.37, ymin=0.25, ymax=1200000,
  xtick={0.001,0.01,0.1}, xticklabels={\pw{−3},\pw{−2},\pw{−1}},
  ytick={10,1000,100000}, yticklabels={\pw{1},\pw{3},\pw{5}},
  xlabel={\textit{r[code units]}}, ylabel={\textit{density [code units]}}]
\addplot[hist, point meta max=8.5] table[x expr={10^(-3.31+0.0576*\thisrowno{0})}, y expr={10^(6.013-0.1336*\thisrowno{1})}, meta index=2]{\histbot};
\addplot[dots] table[row sep=\\, header=false, x expr={10^(\thisrowno{0})}, y expr={10^(\thisrowno{1})}]{
-3.30 5.95\\-3.07 5.97\\-3.16 6.05\\-2.92 5.61\\-2.82 5.81\\-3.16 5.33\\-3.07 5.31\\-2.96 5.31\\-2.92 5.15\\-2.70 5.33\\-3.16 4.91\\-3.00 4.99\\-2.74 4.91\\-2.76 4.67\\
};
\end{axis}
\end{tikzpicture}
\end{document}
